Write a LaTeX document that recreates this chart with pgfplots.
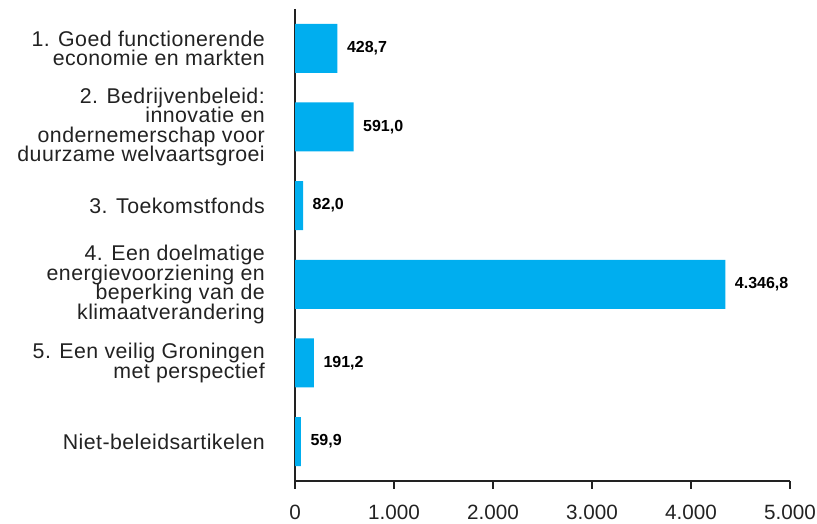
\documentclass[border=0pt]{standalone}
\usepackage{pgfplots}
\pgfplotsset{compat=1.18}
\usepackage{fontspec}
\setmainfont{Liberation Sans}
\newfontfamily\lblff{Liberation Sans}[LetterSpace=2.0]
\definecolor{barcyan}{HTML}{00AEEF}
\definecolor{txt}{HTML}{222222}
\newcommand\lblfont{\lblff\fontsize{16pt}{14.6pt}\selectfont\setlength{\lineskiplimit}{-20pt}\relax}
\begin{document}
\begin{tikzpicture}
\begin{axis}[
  scale only axis,
  width=371.25pt, height=354pt,
  xbar, bar width=36.75pt,
  y dir=reverse,
  xmin=0, xmax=5000,
  ymin=-0.5, ymax=5.5,
  axis lines=left,
  axis line style={-, draw=txt, line width=0.8pt},
  ytick={0,1,2,3,4,5},
  yticklabels={
    {1. Goed functionerende\\economie en markten},
    {2. Bedrijvenbeleid:\\innovatie en\\ondernemerschap voor\\duurzame welvaartsgroei},
    {3. Toekomstfonds},
    {4. Een doelmatige\\energievoorziening en\\beperking van de\\klimaatverandering},
    {5. Een veilig Groningen\\met perspectief},
    {Niet-beleidsartikelen}},
  yticklabel style={align=right, inner sep=0pt, xshift=-16.5pt, font=\lblfont, text=txt},
  y tick style={draw=none},
  xtick={0,1000,2000,3000,4000,5000},
  tick align=outside,
  x tick style={draw=txt, line width=0.8pt},
  major tick length=6pt,
  xticklabel style={font=\fontsize{15.5pt}{17pt}\selectfont, text=txt, yshift=-8.5pt},
  /pgf/number format/assume math mode=true,
  /pgf/number format/use comma,
  /pgf/number format/1000 sep={.},
  scaled x ticks=false,
  nodes near coords={\pgfmathprintnumber[fixed, fixed zerofill, precision=1, use comma, 1000 sep={.}]{\pgfplotspointmeta}},
  every node near coord/.append style={anchor=west, inner sep=0pt, xshift=7pt, font=\bfseries\fontsize{12pt}{14pt}\selectfont, text=black},
  clip=false,
]
\addplot[fill=barcyan, draw=none] coordinates {
  (428.7,0) (591.0,1) (82.0,2) (4346.8,3) (191.2,4) (59.9,5)
};
\coordinate (bbA) at (axis description cs:-0.596,1.019);
\coordinate (bbB) at (axis description cs:1.0545,-0.0911);
\end{axis}
\pgfresetboundingbox
\path[use as bounding box] (bbA) rectangle (bbB);
\end{tikzpicture}
\end{document}
